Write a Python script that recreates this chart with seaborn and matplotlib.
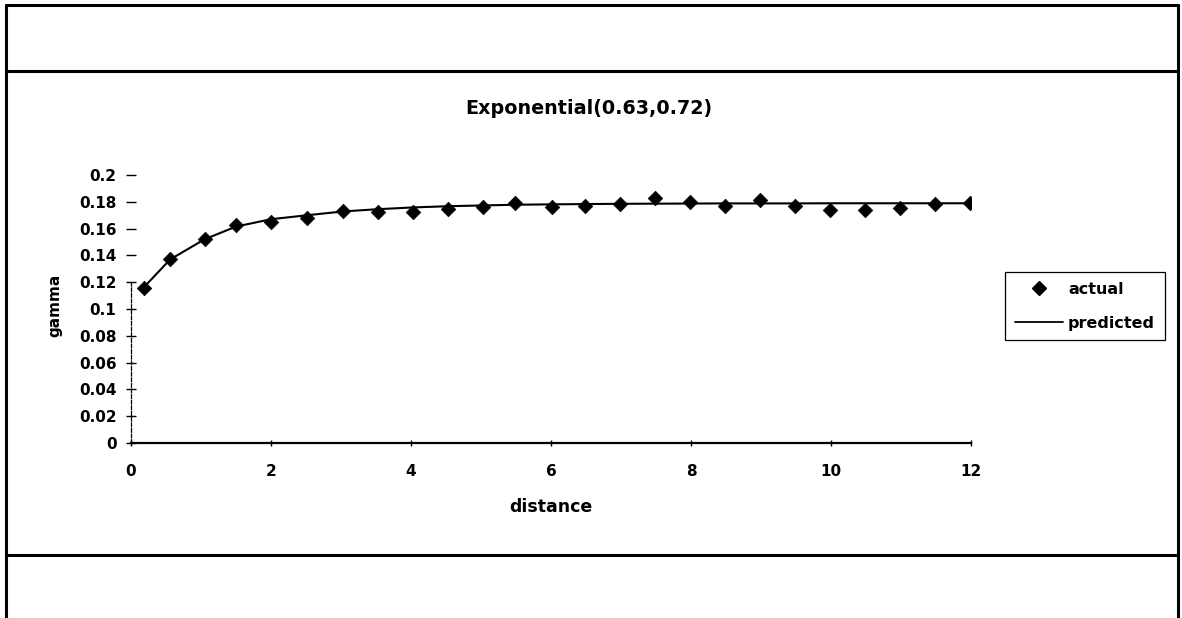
import numpy as np
import pandas as pd
import matplotlib
matplotlib.use("Agg")
import matplotlib.pyplot as plt
from matplotlib.lines import Line2D
import seaborn as sns

# Semivariogram lags and values
distance = [0.18, 0.56, 1.05, 1.5, 2.0, 2.52, 3.03, 3.53, 4.03, 4.53, 5.03, 5.49,
            6.01, 6.49, 6.98, 7.49, 7.99, 8.49, 8.99, 9.49, 9.99, 10.48, 10.98,
            11.49, 11.99]
actual = [0.116, 0.137, 0.152, 0.1627, 0.165, 0.1677, 0.1734, 0.1724, 0.1721,
          0.1749, 0.1764, 0.1789, 0.1764, 0.1772, 0.1781, 0.1826, 0.1796, 0.1769,
          0.1813, 0.1769, 0.1739, 0.1739, 0.1751, 0.1781, 0.1789]
predicted = [0.116, 0.137, 0.152, 0.1615, 0.167, 0.170, 0.1728, 0.1745, 0.1758,
             0.1767, 0.1773, 0.1778, 0.1781, 0.1783, 0.1785, 0.1786, 0.1787,
             0.1788, 0.1788, 0.1788, 0.1789, 0.1789, 0.1789, 0.1789, 0.1789]
x_ticks = [0, 2, 4, 6, 8, 10, 12]
y_ticks = [0, 0.02, 0.04, 0.06, 0.08, 0.1, 0.12, 0.14, 0.16, 0.18, 0.2]
y_tick_labels = ["0", "0.02", "0.04", "0.06", "0.08", "0.1", "0.12", "0.14",
                 "0.16", "0.18", "0.2"]

df = pd.DataFrame({"distance": distance, "actual": actual, "predicted": predicted})

sns.set_theme(style="white")
plt.rcParams["font.family"] = ["DejaVu Sans"]
plt.rcParams["text.color"] = "black"
plt.rcParams["axes.labelcolor"] = "black"
plt.rcParams["xtick.color"] = "black"
plt.rcParams["ytick.color"] = "black"

W, H = 1182, 618
fig = plt.figure(figsize=(W / 100, H / 100), dpi=100)
fig.patch.set_facecolor("white")

# axes rectangle in pixels: x 131..971, y 175..443
x0, x1, yt, yb = 131, 971, 175, 443
ax = fig.add_axes([x0 / W, 1 - yb / H, (x1 - x0) / W, (yb - yt) / H])
ax.set_facecolor("none")

sns.lineplot(data=df, x="distance", y="predicted", ax=ax, color="black",
             linewidth=1.5, legend=False)
sns.scatterplot(data=df, x="distance", y="actual", ax=ax, marker="D",
                color="black", s=55, edgecolor="black", linewidth=0.5,
                legend=False, zorder=3)

ax.set_xlim(0, 12)
ax.set_ylim(0, 0.2)
ax.set_xticks(x_ticks)
ax.set_xticklabels([str(t) for t in x_ticks], fontsize=11, fontweight="bold")
ax.set_yticks(y_ticks)
ax.set_yticklabels(y_tick_labels, fontsize=11, fontweight="bold")
ax.tick_params(axis="y", direction="inout", length=7, width=1, colors="black",
               pad=7, left=True)
ax.tick_params(axis="x", direction="inout", length=4, width=1, colors="black",
               pad=13, bottom=True)

for side in ["top", "right"]:
    ax.spines[side].set_visible(False)
ax.spines["bottom"].set_color("black")
ax.spines["bottom"].set_linewidth(1.6)
ax.spines["left"].set_color("black")
ax.spines["left"].set_linewidth(0.9)
ax.spines["left"].set_linestyle((0, (3, 1.5)))
ax.spines["left"].set_bounds(0, 0.12)

ax.set_xlabel("distance", fontsize=12.5, fontweight="bold", labelpad=14,
              color="black")
ax.set_ylabel("")
fig.text(55 / W, 1 - 305 / H, "gamma", rotation=90, ha="center", va="center",
         fontsize=11, fontweight="bold", color="black")

fig.text(589 / W, 1 - 108 / H, "Exponential(0.63,0.72)", ha="center",
         va="center", fontsize=13.8, fontweight="bold", color="black")

handles = [
    Line2D([], [], marker="D", color="black", linestyle="none", markersize=7),
    Line2D([], [], color="black", linewidth=1.3),
]
leg = fig.legend(handles, ["actual", "predicted"], loc="upper left",
                 bbox_to_anchor=(1005 / W, 1 - 272 / H), frameon=True,
                 fancybox=False, edgecolor="black", framealpha=1,
                 prop={"size": 11.5, "weight": "bold"}, handlelength=3.0,
                 borderpad=0.6, labelspacing=1.2, handletextpad=0.35,
                 borderaxespad=0)
leg.get_frame().set_linewidth(0.9)
for t in leg.get_texts():
    t.set_color("black")

# surrounding worksheet frame
lw = 2.2
def hline(y, xa=6, xb=1178):
    fig.add_artist(Line2D([xa / W, xb / W], [1 - y / H, 1 - y / H],
                          color="black", linewidth=lw))

def vline(x, ya=5, yb=618):
    fig.add_artist(Line2D([x / W, x / W], [1 - ya / H, 1 - yb / H],
                          color="black", linewidth=lw))

hline(5)
hline(71)
hline(555)
vline(6)
vline(1178)

fig.savefig("out.png", dpi=100, facecolor="white")
